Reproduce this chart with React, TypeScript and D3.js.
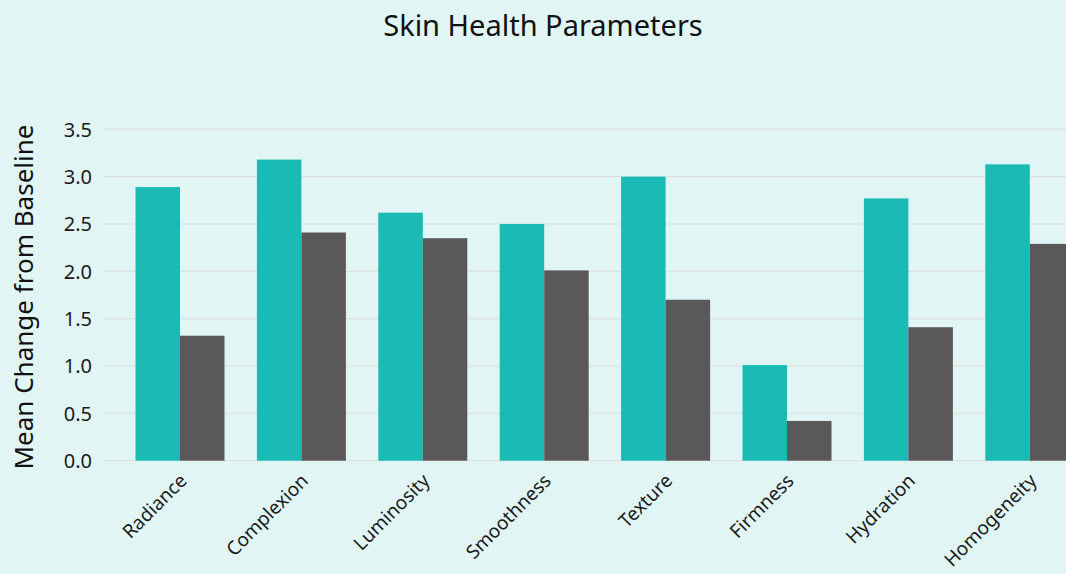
import React, { useEffect, useRef } from 'react';
import * as d3 from 'd3';

const categories = ['Radiance', 'Complexion', 'Luminosity', 'Smoothness', 'Texture', 'Firmness', 'Hydration', 'Homogeneity'];
const seriesA = [2.89, 3.18, 2.62, 2.5, 3.0, 1.01, 2.77, 3.13];
const seriesB = [1.32, 2.41, 2.35, 2.01, 1.7, 0.42, 1.41, 2.29];
const yTicks = [0, 0.5, 1, 1.5, 2, 2.5, 3, 3.5];

const W = 1066, H = 574;
const FONT = "'Noto Sans', 'Open Sans', sans-serif";

function App() {
  const ref = useRef<SVGSVGElement>(null);

  useEffect(() => {
    const svg = d3.select(ref.current);
    svg.selectAll('*').remove();

    const left = 104;
    const step = 121.4;
    const x = d3.scaleBand()
      .domain(categories)
      .range([180 - step / 2, 180 - step / 2 + step * categories.length])
      .paddingInner(0.267)
      .paddingOuter(0.1335);
    const y = d3.scaleLinear().domain([0, 3.5]).range([460.7, 129.3]);

    svg.append('rect').attr('width', W).attr('height', H).attr('fill', '#e1f6f4');

    svg.append('g').selectAll('line')
      .data(yTicks)
      .enter().append('line')
      .attr('x1', left).attr('x2', W)
      .attr('y1', d => y(d)).attr('y2', d => y(d))
      .attr('stroke', '#dcdcdc').attr('stroke-width', 1);

    svg.append('g').selectAll('text')
      .data(yTicks)
      .enter().append('text')
      .attr('x', 92).attr('y', d => y(d))
      .attr('dy', '0.36em')
      .attr('text-anchor', 'end')
      .attr('font-family', FONT).attr('font-size', 20)
      .attr('fill', '#1a1a1a')
      .text(d => d.toFixed(1));

    const bw = x.bandwidth() / 2;
    const g = svg.append('g');
    g.selectAll('.a')
      .data(categories)
      .enter().append('rect')
      .attr('x', d => x(d)!)
      .attr('width', bw)
      .attr('y', (d, i) => y(seriesA[i]))
      .attr('height', (d, i) => y(0) - y(seriesA[i]))
      .attr('fill', '#1abbb4');
    g.selectAll('.b')
      .data(categories)
      .enter().append('rect')
      .attr('x', d => x(d)! + bw)
      .attr('width', bw)
      .attr('y', (d, i) => y(seriesB[i]))
      .attr('height', (d, i) => y(0) - y(seriesB[i]))
      .attr('fill', '#5a5859');

    svg.append('g').selectAll('text')
      .data(categories)
      .enter().append('text')
      .attr('transform', d => `translate(${x(d)! + x.bandwidth() / 2 + 8},${482}) rotate(-45)`)
      .attr('text-anchor', 'end')
      .attr('font-family', FONT).attr('font-size', 19)
      .attr('fill', '#1a1a1a')
      .text(d => d);

    svg.append('text')
      .attr('x', 543).attr('y', 36)
      .attr('text-anchor', 'middle')
      .attr('font-family', FONT).attr('font-size', 29)
      .attr('fill', '#111')
      .text('Skin Health Parameters');

    svg.append('text')
      .attr('transform', `translate(33,${297}) rotate(-90)`)
      .attr('text-anchor', 'middle')
      .attr('font-family', FONT).attr('font-size', 26)
      .attr('fill', '#111')
      .text('Mean Change from Baseline');
  }, []);

  return (
    <svg ref={ref} width={W} height={H} style={{ position: 'absolute', left: 0, top: 0 }} />
  );
}

export default App;
